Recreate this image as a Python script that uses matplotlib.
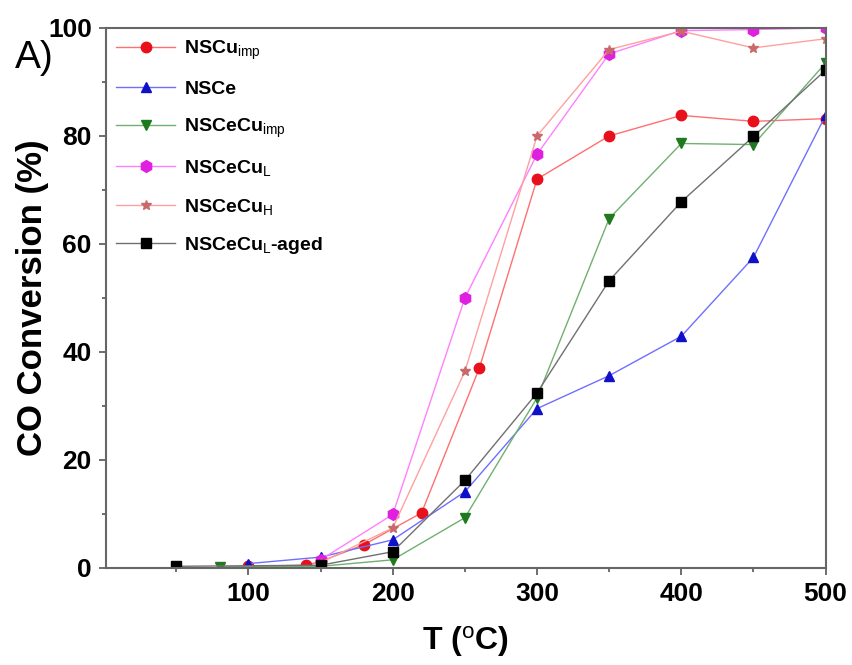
import numpy as np
import matplotlib
matplotlib.use('Agg')
import matplotlib.pyplot as plt
from matplotlib.ticker import MultipleLocator

plt.rcParams['font.family'] = ['Liberation Sans', 'DejaVu Sans']
plt.rcParams['mathtext.fontset'] = 'custom'
plt.rcParams['mathtext.rm'] = 'Liberation Sans'
plt.rcParams['mathtext.default'] = 'rm'

# CO conversion (%) vs temperature (C)
t_cu_imp = [100, 140, 150, 180, 220, 260, 300, 350, 400, 450, 500]
y_cu_imp = [0.3, 0.5, 1.2, 4.3, 10.2, 37.0, 72.0, 80.0, 83.8, 82.7, 83.2]

t_ce = [100, 150, 200, 250, 300, 350, 400, 450, 500]
y_ce = [0.8, 2.0, 5.2, 14.1, 29.5, 35.6, 42.9, 57.5, 83.8]

t_cecu_imp = [80, 150, 200, 250, 300, 350, 400, 450, 500]
y_cecu_imp = [0.2, 0.3, 1.5, 9.3, 31.5, 64.7, 78.6, 78.4, 93.5]

t_cecu_l = [150, 200, 250, 300, 350, 400, 450, 500]
y_cecu_l = [1.5, 9.9, 50.0, 76.6, 95.2, 99.5, 99.7, 100.0]

t_cecu_h = [150, 200, 250, 300, 350, 400, 450, 500]
y_cecu_h = [1.0, 7.4, 36.4, 80.0, 96.0, 99.4, 96.3, 98.0]

t_aged = [50, 150, 200, 250, 300, 350, 400, 450, 500]
y_aged = [0.3, 0.5, 3.0, 16.2, 32.4, 53.2, 67.8, 79.9, 92.2]

labels = [r'NSCu$_{imp}$', 'NSCe', r'NSCeCu$_{imp}$', r'NSCeCu$_{L}$',
          r'NSCeCu$_{H}$', r'NSCeCu$_{L}$-aged']

fig = plt.figure(figsize=(8.52, 6.65), dpi=100)
ax = fig.add_axes([0.124, 0.146, 0.845, 0.812])

ax.plot(t_cu_imp, y_cu_imp, '-', color='#ff7070', lw=1, marker='o', ms=7.5,
        mfc='#e8101a', mec='#e8101a', label=labels[0])
ax.plot(t_ce, y_ce, '-', color='#6f6fff', lw=1, marker='^', ms=7.5,
        mfc='#1010c8', mec='#1010c8', label=labels[1])
ax.plot(t_cecu_imp, y_cecu_imp, '-', color='#70b070', lw=1, marker='v', ms=7.5,
        mfc='#1f7a1f', mec='#1f7a1f', label=labels[2])
ax.plot(t_cecu_l, y_cecu_l, '-', color='#ff80ff', lw=1, marker='h', ms=8.5,
        mfc='#e020e0', mec='#e020e0', label=labels[3])
ax.plot(t_cecu_h, y_cecu_h, '-', color='#ffa0a0', lw=1, marker='*', ms=7.5,
        mfc='#c86a6a', mec='#c86a6a', label=labels[4])
ax.plot(t_aged, y_aged, '-', color='#707070', lw=1, marker='s', ms=6.5,
        mfc='black', mec='black', label=labels[5])

ax.set_xlim(1, 500)
ax.set_ylim(0, 100)
ax.xaxis.set_major_locator(MultipleLocator(100))
ax.xaxis.set_minor_locator(MultipleLocator(50))
ax.yaxis.set_major_locator(MultipleLocator(20))
ax.yaxis.set_minor_locator(MultipleLocator(10))
ax.tick_params(which='both', direction='out', top=False, right=False,
               width=1.2, colors='#555555', labelcolor='black')
ax.tick_params(which='major', length=5, labelsize=19, pad=5)
ax.tick_params(which='minor', length=3)
for lab in ax.get_xticklabels() + ax.get_yticklabels():
    lab.set_fontweight('bold')
for s in ax.spines.values():
    s.set_linewidth(1.5)
    s.set_color('#666666')

ax.set_xlabel(r'T ($^{o}$C)', fontsize=23, fontweight='bold', labelpad=13)
ax.set_ylabel('CO Conversion (%)', fontsize=25, fontweight='bold', labelpad=-1)

fig.text(0.018, 0.913, 'A)', fontsize=28, va='center', ha='left')

leg = ax.legend(loc='upper left', frameon=False,
                prop={'weight': 'bold', 'size': 14}, handlelength=3.0,
                handletextpad=0.5, labelspacing=0.95, borderaxespad=0.35,
                borderpad=0.2)

fig.savefig('out.png', dpi=100)
